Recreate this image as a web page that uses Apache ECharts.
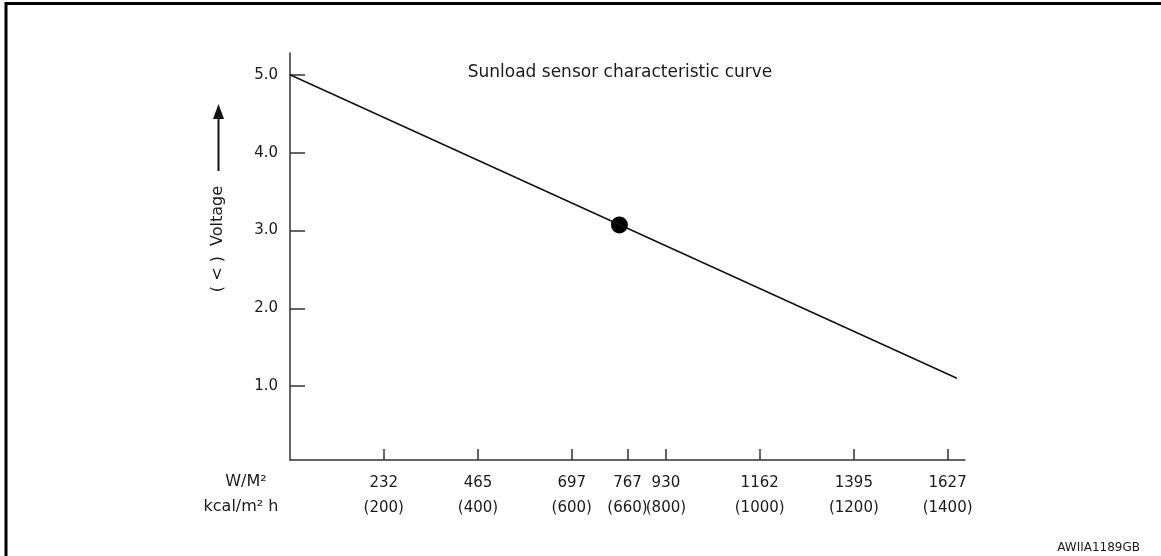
<!DOCTYPE html>
<html>
<head>
<meta charset="utf-8">
<title>Sunload sensor characteristic curve</title>
<script src="https://cdn.jsdelivr.net/npm/echarts@6/dist/echarts.min.js"></script>
<style>
  html, body { margin: 0; padding: 0; background: #fff; }
  #chart { width: 1161px; height: 556px; }
</style>
</head>
<body>
<div id="chart"></div>
<script>
// x tick positions, with their two-row labels
const xTickPositions = [232, 465, 697, 835, 930, 1162, 1395, 1627];
const xTickWatt = ['232', '465', '697', '767', '930', '1162', '1395', '1627'];
const xTickKcal = ['(200)', '(400)', '(600)', '(660)', '(800)', '(1000)', '(1200)', '(1400)'];
const yTicks = [1, 2, 3, 4, 5];

// characteristic line (x in W/m², y in volts) and the marked point
const curve = [[0, 5.0], [1650, 1.10]];
const marker = [[815, 3.07]];

const FONT = '"DejaVu Sans", Verdana, sans-serif';
const INK = '#1a1a1a';

const chart = echarts.init(document.getElementById('chart'));

chart.setOption({
  animation: false,
  backgroundColor: '#fff',
  grid: { left: 290, right: 196, top: 53, bottom: 96 },
  xAxis: {
    type: 'value', min: 0, max: 1670,
    splitLine: { show: false },
    axisLine: { lineStyle: { color: '#333', width: 1.5 } },
    axisTick: {
      inside: true, length: 11, customValues: xTickPositions,
      lineStyle: { color: '#333', width: 1.5 }
    },
    axisLabel: {
      customValues: xTickPositions,
      margin: 11,
      formatter: v => {
        const i = xTickPositions.indexOf(v);
        return i < 0 ? '' : '{a|' + xTickWatt[i] + '}\n{b|' + xTickKcal[i] + '}';
      },
      rich: {
        a: { fontSize: 15, fontFamily: FONT, color: INK, lineHeight: 25 },
        b: { fontSize: 15, fontFamily: FONT, color: INK, lineHeight: 25 }
      }
    }
  },
  yAxis: {
    type: 'value', min: 0.05, max: 5.28,
    splitLine: { show: false },
    axisLine: { show: true, lineStyle: { color: '#333', width: 1.5 } },
    axisTick: {
      show: true, inside: true, length: 15, customValues: yTicks,
      lineStyle: { color: '#333', width: 1.5 }
    },
    axisLabel: {
      customValues: yTicks,
      margin: 12,
      fontSize: 15, fontFamily: FONT, color: INK,
      formatter: v => v.toFixed(1)
    }
  },
  graphic: [
    // frame (top and left edges)
    { type: 'line', shape: { x1: 6, y1: 3.5, x2: 1161, y2: 3.5 }, style: { stroke: '#000', lineWidth: 3 } },
    { type: 'line', shape: { x1: 6, y1: 2, x2: 6, y2: 556 }, style: { stroke: '#000', lineWidth: 3 } },
    // title
    {
      type: 'text', x: 620, y: 73,
      style: { text: 'Sunload sensor characteristic curve', font: '17px ' + FONT, fill: INK, textAlign: 'center', textVerticalAlign: 'middle' }
    },
    // y axis name with arrow
    {
      type: 'text', x: 218, y: 239, rotation: Math.PI / 2,
      style: { text: '( < )  Voltage', font: '16px ' + FONT, fill: INK, textAlign: 'center', textVerticalAlign: 'middle' }
    },
    { type: 'line', shape: { x1: 218.5, y1: 171, x2: 218.5, y2: 116 }, style: { stroke: '#111', lineWidth: 2 } },
    { type: 'polygon', shape: { points: [[218.5, 104], [213, 119], [224, 119]] }, style: { fill: '#111' } },
    // unit captions for the x axis
    {
      type: 'text', x: 246, y: 482,
      style: { text: 'W/M²', font: '16px ' + FONT, fill: INK, textAlign: 'center', textVerticalAlign: 'middle' }
    },
    {
      type: 'text', x: 241, y: 507,
      style: { text: 'kcal/m² h', font: '16px ' + FONT, fill: INK, textAlign: 'center', textVerticalAlign: 'middle' }
    },
    // figure code
    {
      type: 'text', x: 1140, y: 548,
      style: { text: 'AWIIA1189GB', font: '12px ' + FONT, fill: INK, textAlign: 'right', textVerticalAlign: 'middle' }
    }
  ],
  series: [
    {
      type: 'line', data: curve, showSymbol: false, silent: true,
      lineStyle: { color: '#111', width: 1.5 }
    },
    {
      type: 'scatter', data: marker, symbol: 'circle', symbolSize: 17,
      itemStyle: { color: '#000', opacity: 1 }
    }
  ]
});
</script>
</body>
</html>
